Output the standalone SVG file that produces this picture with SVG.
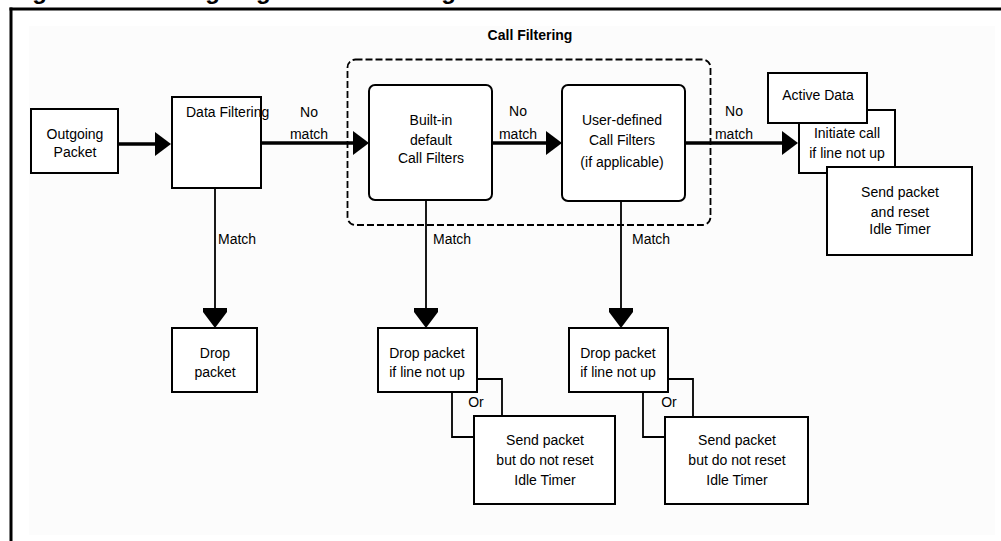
<svg xmlns="http://www.w3.org/2000/svg" width="1001" height="541" viewBox="0 0 1001 541">
<style>
text{font-family:"Liberation Sans",Arial,sans-serif;font-size:14px;fill:#000;}
.c{text-anchor:middle;}
.box{fill:#fff;stroke:#000;stroke-width:2;}
.thick{stroke:#000;stroke-width:3.5;fill:none;}
.thin{stroke:#000;stroke-width:1.8;fill:none;}
.title{font-size:24px;font-weight:bold;}
.grp{font-weight:bold;}
</style>
<defs>
<marker id="ah" markerUnits="userSpaceOnUse" markerWidth="16" markerHeight="26" viewBox="0 0 16 26" refX="8" refY="13" orient="auto">
<path d="M0,1 L16,13 L0,25 z" fill="#000"/>
</marker>
<marker id="av" markerUnits="userSpaceOnUse" markerWidth="20" markerHeight="24" viewBox="0 0 20 24" refX="10" refY="12" orient="auto">
<path d="M0,0 L4,0 L20,12 L4,24 L0,24 z" fill="#000"/>
</marker>
</defs>
<rect x="0" y="0" width="1001" height="541" fill="#fff"/>
<rect x="29" y="26" width="966" height="509" fill="#fcfcfc"/>
<g id="frame">
<line x1="9.5" y1="9" x2="1001" y2="9" stroke="#000" stroke-width="3"/>
<line x1="11" y1="7.5" x2="11" y2="541" stroke="#000" stroke-width="3"/>
<text class="title" x="11" y="-1">Figure<tspan x="164">Outgoing Packet Filtering</tspan></text>
</g>
<g id="call-filtering">
<rect x="347.5" y="59.5" width="363" height="165.5" rx="8" fill="none" stroke="#000" stroke-width="1.8" stroke-dasharray="7 3"/>
<text class="c grp" x="530" y="40">Call Filtering</text>
</g>
<g id="connectors">
<line class="thick" x1="118" y1="144" x2="163" y2="144" marker-end="url(#ah)"/>
<line class="thick" x1="261" y1="143" x2="361" y2="143" marker-end="url(#ah)"/>
<line class="thick" x1="492" y1="143" x2="554" y2="143" marker-end="url(#ah)"/>
<line class="thick" x1="685" y1="143" x2="790" y2="143" marker-end="url(#ah)"/>
<line class="thin" x1="215" y1="188" x2="215" y2="318" marker-end="url(#av)"/>
<line class="thin" x1="426" y1="200" x2="426" y2="318" marker-end="url(#av)"/>
<line class="thin" x1="621" y1="201" x2="621" y2="318" marker-end="url(#av)"/>
<polyline class="thin" points="477,379 502,379 502,416"/>
<polyline class="thin" points="452,392 452,437 474,437"/>
<polyline class="thin" points="668,379 693,379 693,417"/>
<polyline class="thin" points="643,392 643,437 665,437"/>
<text class="c" x="309" y="117">No</text>
<text class="c" x="309" y="139">match</text>
<text class="c" x="518" y="116">No</text>
<text class="c" x="518" y="139">match</text>
<text class="c" x="734" y="116">No</text>
<text class="c" x="734" y="139">match</text>
<text x="218" y="244">Match</text>
<text x="433" y="244">Match</text>
<text x="632" y="244">Match</text>
<text class="c" x="476" y="407">Or</text>
<text class="c" x="669" y="407">Or</text>
</g>
<g id="outgoing-packet">
<rect class="box" x="31" y="109" width="87" height="64"/>
<text class="c" x="75" y="139">Outgoing</text>
<text class="c" x="75" y="157">Packet</text>
</g>
<g id="data-filtering">
<rect class="box" x="172" y="97" width="89" height="91"/>
<text x="186" y="117">Data Filtering</text>
</g>
<g id="builtin-filters">
<rect class="box" x="369" y="85" width="123" height="115" rx="6"/>
<text class="c" x="431" y="125">Built-in</text>
<text class="c" x="431" y="145">default</text>
<text class="c" x="431" y="163">Call Filters</text>
</g>
<g id="user-filters">
<rect class="box" x="562" y="85" width="123" height="116" rx="6"/>
<text class="c" x="622" y="125">User-defined</text>
<text class="c" x="622" y="145">Call Filters</text>
<text class="c" x="622" y="167">(if applicable)</text>
</g>
<g id="initiate-call">
<rect class="box" x="799" y="110" width="96" height="63"/>
<text class="c" x="847" y="138">Initiate call</text>
<text class="c" x="847" y="158">if line not up</text>
</g>
<g id="active-data">
<rect class="box" x="768" y="73" width="99" height="50"/>
<text class="c" x="818" y="100">Active Data</text>
</g>
<g id="send-reset">
<rect class="box" x="827" y="167" width="145" height="88"/>
<text class="c" x="900" y="197">Send packet</text>
<text class="c" x="900" y="217">and reset</text>
<text class="c" x="900" y="234">Idle Timer</text>
</g>
<g id="drop-packet">
<rect class="box" x="172" y="328" width="85" height="64"/>
<text class="c" x="215" y="358">Drop</text>
<text class="c" x="215" y="377">packet</text>
</g>
<g id="drop-packet-1">
<rect class="box" x="378" y="328" width="99" height="64"/>
<text class="c" x="427" y="358">Drop packet</text>
<text class="c" x="427" y="377">if line not up</text>
</g>
<g id="send-noreset-1">
<rect class="box" x="474" y="416" width="141" height="88"/>
<text class="c" x="545" y="445">Send packet</text>
<text class="c" x="545" y="465">but do not reset</text>
<text class="c" x="545" y="485">Idle Timer</text>
</g>
<g id="drop-packet-2">
<rect class="box" x="569" y="328" width="99" height="64"/>
<text class="c" x="618" y="358">Drop packet</text>
<text class="c" x="618" y="377">if line not up</text>
</g>
<g id="send-noreset-2">
<rect class="box" x="665" y="417" width="143" height="87"/>
<text class="c" x="737" y="445">Send packet</text>
<text class="c" x="737" y="465">but do not reset</text>
<text class="c" x="737" y="485">Idle Timer</text>
</g>
</svg>
